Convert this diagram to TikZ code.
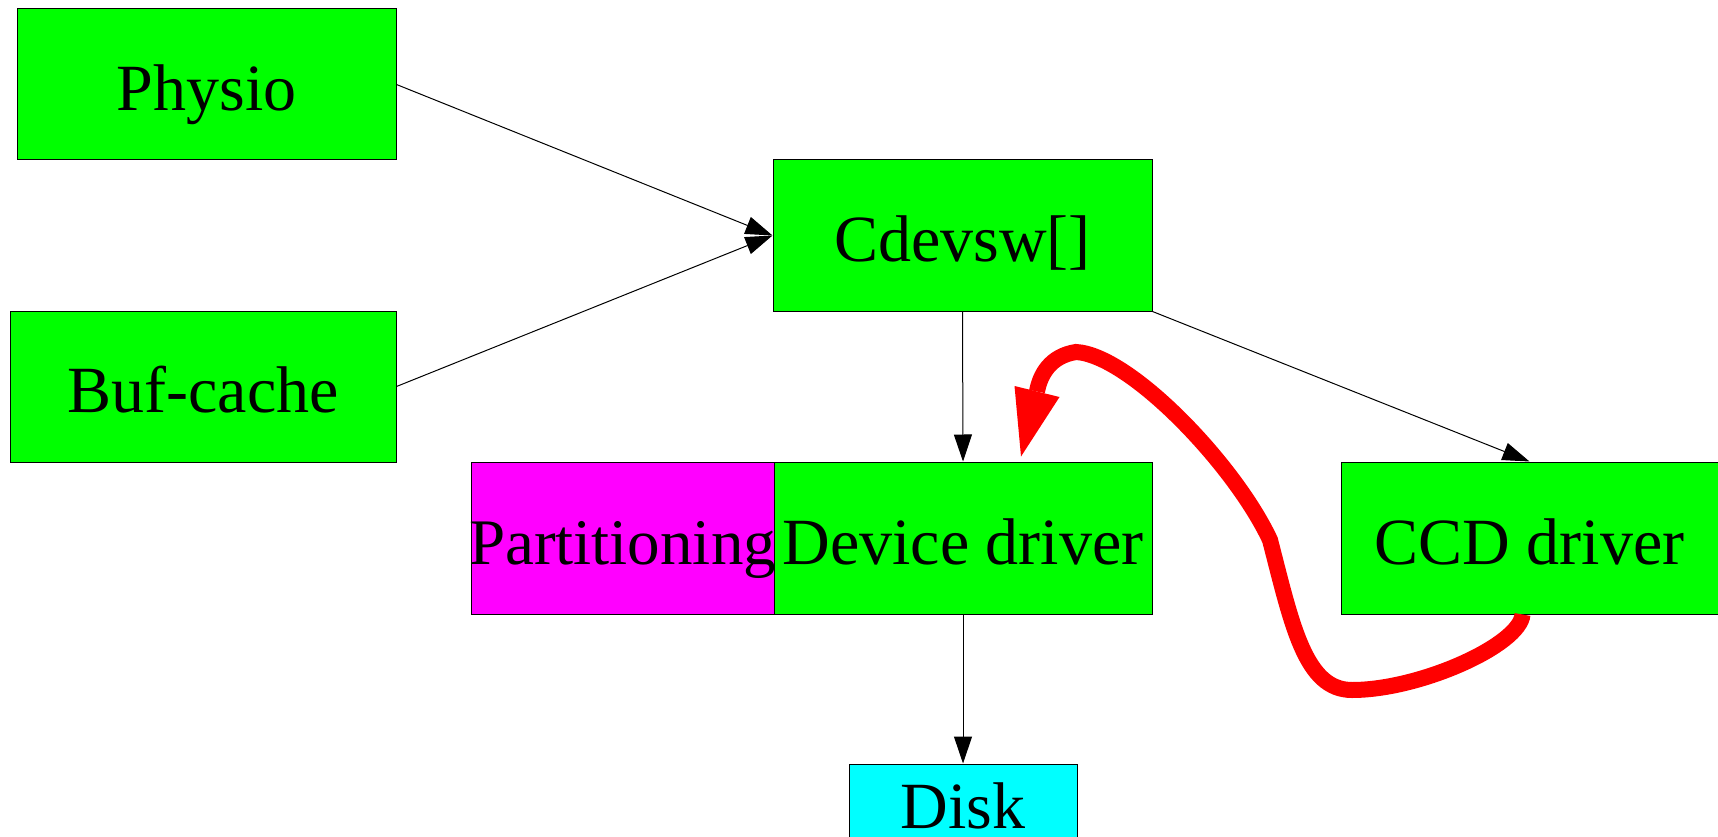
\documentclass[tikz,border=0pt]{standalone}
\usepackage{fontspec}
\setmainfont{Liberation Serif}
\usetikzlibrary{arrows.meta,calc}
\definecolor{boxgreen}{RGB}{0,255,0}
\definecolor{boxmagenta}{RGB}{255,0,255}
\definecolor{boxcyan}{RGB}{0,255,255}
\definecolor{loopred}{RGB}{255,0,0}
\begin{document}
\begin{tikzpicture}[x=1pt,y=-1pt,
  box/.style={draw=black, line width=1pt, rectangle, inner sep=0pt,
    minimum height=151pt, text height=52pt, text depth=0pt,
    font=\fontsize{66}{66}\selectfont},
  green box/.style={box, fill=boxgreen},
  link/.style={draw=black, line width=1pt, -{Triangle[length=27pt,width=18pt]}},
  loop/.style={draw=loopred, line width=16pt}
]
\clip (0,0) rectangle (1718,837);

% layers
\node[green box, minimum width=379pt] (physio) at (206.5,84.5) {Physio};
\node[green box, minimum width=386pt] (buf) at (203,386.5) {Buf-cache};
\node[green box, minimum width=379pt] (cdev) at (962.5,235.5) {Cdevsw[]};
\node[box, fill=boxmagenta, minimum width=303pt, minimum height=152pt] (part) at (622.5,538)
  {\makebox[0pt][c]{\fontsize{65}{65}\selectfont Partitioning}};
\node[green box, minimum width=378pt, minimum height=152pt] (dev) at (963,538) {Device driver};
\node[green box, minimum width=377pt, minimum height=152pt] (ccd) at (1529.5,538) {CCD driver};
\node[box, fill=boxcyan, minimum width=228pt, minimum height=76pt] (disk) at (963,802) {Disk};

% calls
\draw[link] (physio.east) -- (cdev.west);
\draw[link] (buf.east) -- (cdev.west);
\draw[link] (cdev.south) -- (dev.north);
\draw[link] (cdev.south east) -- (ccd.north);
\draw[link] (dev.south) -- (disk.north);

% CCD driver hands requests back to the device driver
\coordinate (redtip) at ($(dev.north)+(58,-5)$);
\coordinate (redbase) at ($(dev.north)+(74,-70)$);
\draw[loop] ($(ccd.south)+(-7,0)$) .. controls (1520,645) and (1420,690) .. (1352,690)
  .. controls (1305,690) and (1292,625) .. (1270,540)
  .. controls (1235,465) and (1130,355) .. (1076,352)
  .. controls (1050,356) and (1040,375) .. (redbase);
\fill[loopred] (redtip) -- ($(redbase)+(-22.5,-5.5)$) -- ($(redbase)+(22.5,5.5)$) -- cycle;
\end{tikzpicture}
\end{document}
